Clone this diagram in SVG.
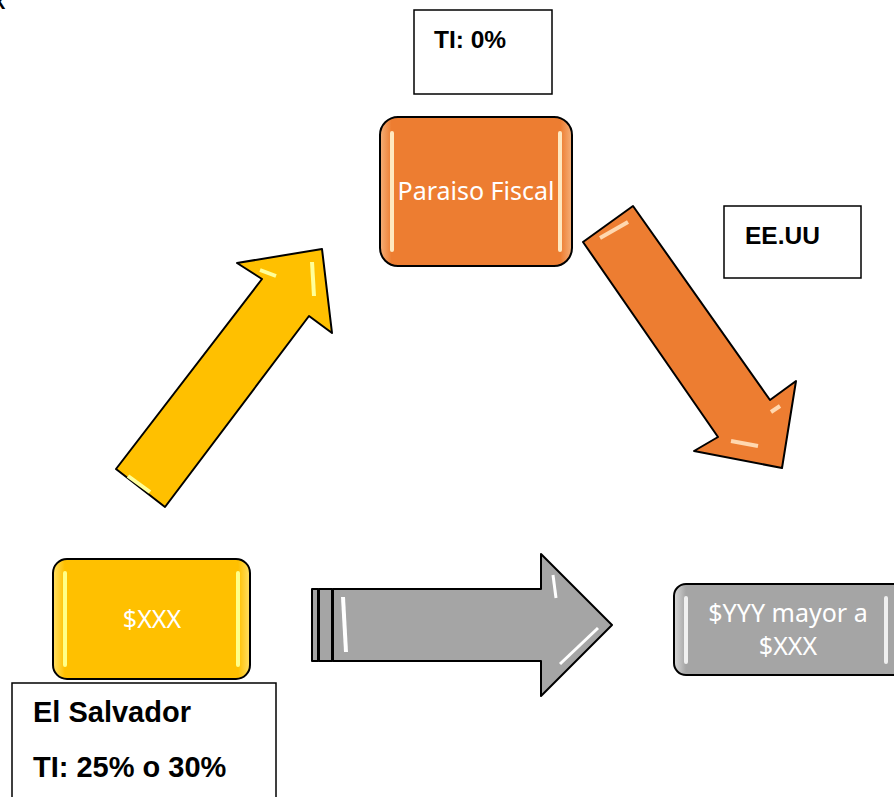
<svg xmlns="http://www.w3.org/2000/svg" width="894" height="797" viewBox="0 0 894 797">
<style>
.lbl{font-family:"Liberation Sans",Arial,sans-serif;font-weight:bold;fill:#000}
.wt{font-family:"Noto Sans","Open Sans",sans-serif;fill:#fff;text-anchor:middle;font-size:25px}
.box{fill:#fff;stroke:#000;stroke-width:1.5}
.shape{stroke:#000;stroke-width:2;stroke-linejoin:round}
.hl{fill:none;stroke-width:4;stroke-linecap:round}
</style>
<defs>
<linearGradient id="gy" x1="0" y1="0" x2="1" y2="0"><stop offset="0" stop-color="#ffe066"/><stop offset="0.06" stop-color="#ffc000"/><stop offset="0.94" stop-color="#ffc000"/><stop offset="1" stop-color="#ffe066"/></linearGradient>
<linearGradient id="go" x1="0" y1="0" x2="1" y2="0"><stop offset="0" stop-color="#f5b07a"/><stop offset="0.06" stop-color="#ed7d31"/><stop offset="0.94" stop-color="#ed7d31"/><stop offset="1" stop-color="#f5b07a"/></linearGradient>
<linearGradient id="gg" x1="0" y1="0" x2="1" y2="0"><stop offset="0" stop-color="#d8d8d8"/><stop offset="0.05" stop-color="#a5a5a5"/><stop offset="0.95" stop-color="#a5a5a5"/><stop offset="1" stop-color="#d8d8d8"/></linearGradient>
</defs>
<text class="lbl" x="-8" y="9" font-size="20">X</text>

<g id="connectors">
<g id="arrow-up">
<polygon class="shape" fill="#ffc000" points="116,469 262,279 237,263 322,249 332,333 309,316 165,507"/>
<path d="M128,476 L150,492" stroke="#ffff99" stroke-width="4" fill="none"/>
<path d="M260,270 L276,276" stroke="#ffff99" stroke-width="4" fill="none"/>
<path d="M312,262 L314,296" stroke="#ffff99" stroke-width="4" fill="none"/>
</g>
<g id="arrow-down">
<polygon class="shape" fill="#ed7d31" points="583,242 633,206 770,400 796,381 782,468 694,451 718,437"/>
<path d="M600,238 L628,222" stroke="#ffd8b0" stroke-width="4" fill="none"/>
<path d="M731,441 L758,446" stroke="#ffd8b0" stroke-width="4" fill="none"/>
<path d="M771,412 L780,406" stroke="#ffd8b0" stroke-width="4" fill="none"/>
</g>
<g id="arrow-right">
<rect class="shape" fill="#a5a5a5" x="312" y="589" width="6" height="72"/>
<rect class="shape" fill="#a5a5a5" x="319" y="589" width="13" height="72"/>
<polygon class="shape" fill="#a5a5a5" points="333,589 541,589 541,554 612,625 541,696 541,661 333,661"/>
<path d="M343,597 L346,652" stroke="#ffffff" stroke-width="4" fill="none"/>
<path d="M553,575 L556,598" stroke="#ffffff" stroke-width="3" fill="none"/>
<path d="M598,628 L560,664" stroke="#ffffff" stroke-width="3" fill="none"/>
</g>
</g>

<g id="ti0">
<rect class="box" x="414" y="10" width="138" height="84"/>
<text class="lbl" x="434" y="48" font-size="24.5">TI: 0%</text>
</g>

<g id="paraiso">
<rect class="shape" fill="url(#go)" x="380" y="117" width="192" height="149" rx="18"/>
<path class="hl" stroke="#ffe8c0" d="M392,133 L392,250 M560,133 L560,250"/>
<text class="wt" x="476" y="200">Paraiso Fiscal</text>
</g>

<g id="eeuu">
<rect class="box" x="724" y="206" width="137" height="72"/>
<text class="lbl" x="745" y="244" font-size="24.5">EE.UU</text>
</g>

<g id="xxx">
<rect class="shape" fill="url(#gy)" x="53" y="559" width="197" height="120" rx="14"/>
<path class="hl" stroke="#ffff88" d="M65,573 L65,665 M238,573 L238,665"/>
<text class="wt" x="152" y="628">$XXX</text>
</g>

<g id="elsalvador">
<rect class="box" x="12" y="683" width="264" height="130"/>
<text class="lbl" x="33" y="722" font-size="29">El Salvador</text>
<text class="lbl" x="33" y="777" font-size="29">TI: 25% o 30%</text>
</g>

<g id="yyy">
<rect class="shape" fill="url(#gg)" x="674" y="584" width="240" height="91" rx="12"/>
<path class="hl" stroke="#f0f0f0" d="M686,598 L686,662 M886,598 L886,662"/>
<text class="wt" x="788" y="622">$YYY mayor a</text>
<text class="wt" x="788" y="655">$XXX</text>
</g>
</svg>
